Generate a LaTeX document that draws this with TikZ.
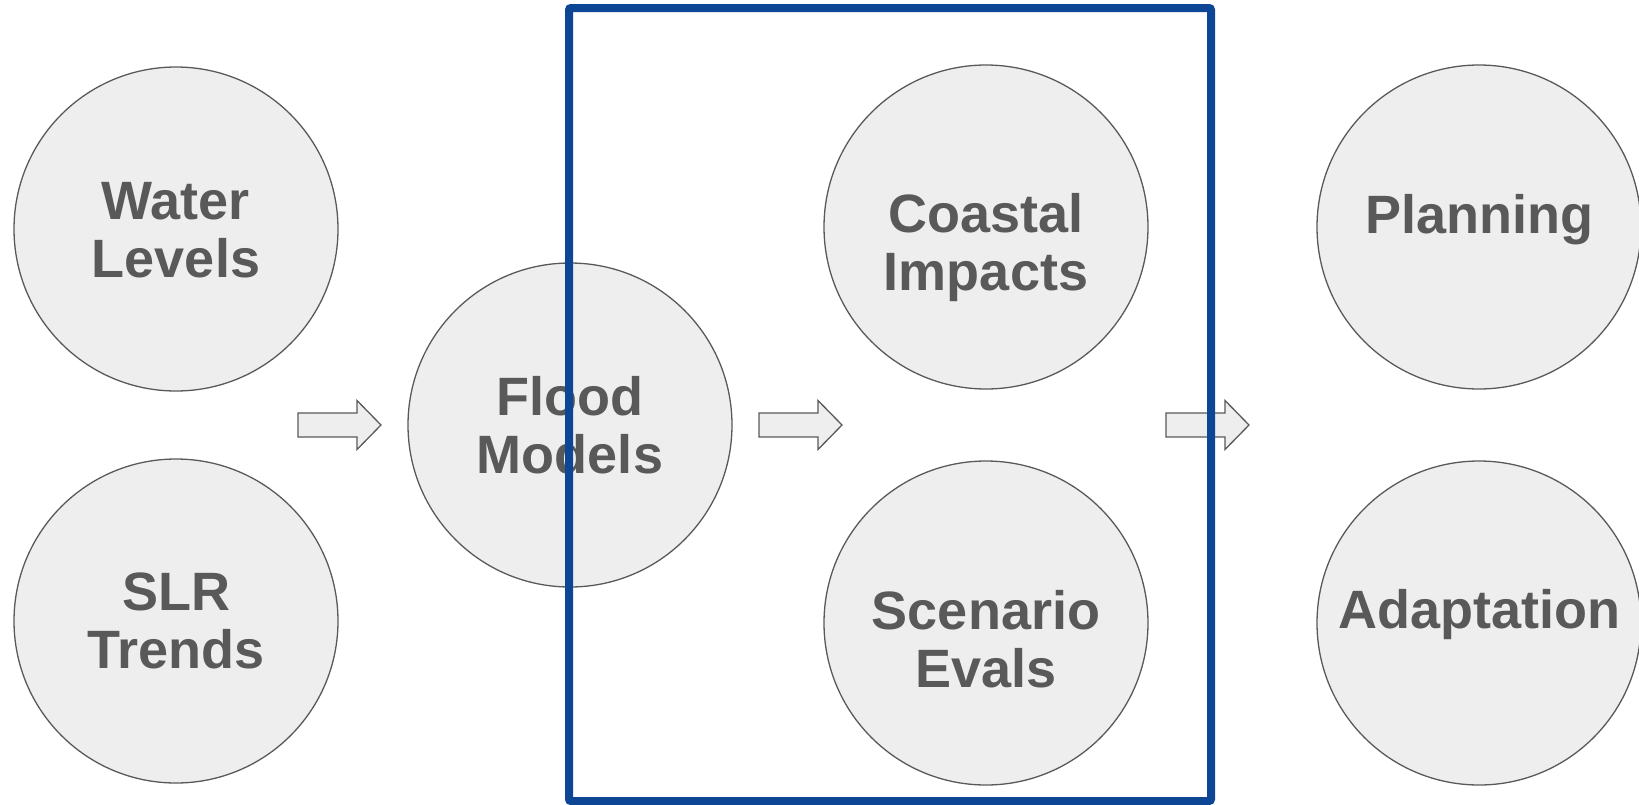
\documentclass[tikz,border=0pt]{standalone}
\usepackage{fontspec}
\setmainfont{Liberation Sans}
\usetikzlibrary{calc}
\definecolor{txtgray}{RGB}{89,89,89}
\definecolor{circfill}{RGB}{238,238,238}
\definecolor{boxblue}{RGB}{13,70,148}
\tikzset{
  bubble/.style={circle, draw=txtgray, fill=circfill, line width=1.3pt, minimum size=324pt, inner sep=0pt},
  btext/.style={text=txtgray, font=\bfseries\fontsize{54}{58}\selectfont, align=center, anchor=base, inner sep=0pt},
  flowarrow/.style={draw=txtgray, fill=circfill, line width=1.3pt, line join=miter},
  bluebox/.style={draw=boxblue, line width=8pt, rounded corners=2pt}
}
\begin{document}
\begin{tikzpicture}[x=1pt,y=-1pt]
\useasboundingbox (0,0) rectangle (1639,804);
\clip (0,0) rectangle (1639,804);
% circles
\node[bubble] (water) at (176,229) {};
\node[bubble] (slr) at (176,621) {};
\node[bubble] (flood) at (570,425) {};
\node[bubble] (coastal) at (986,227) {};
\node[bubble] (scenario) at (986,623) {};
\node[bubble] (planning) at (1479,227) {};
\node[bubble] (adapt) at (1479,623) {};
% texts (anchor base = baseline of last line)
\node[btext] (twater) at (176,277) {Water\\Levels};
\node[btext] (tslr) at (176,668) {SLR\\Trends};
\node[btext] (tflood) at (570,473) {Flood\\Models};
\node[btext] (tcoastal) at (986,290) {Coastal\\Impacts};
\node[btext] (tscen) at (986,687) {Scenario\\Evals};
\node[btext] (tplan) at (1479,233) {Planning};
\node[btext] (tadapt) at (1479,628) {Adaptation};
% arrows
\coordinate (a1) at (298,425);
\coordinate (a2) at (759,425);
\coordinate (a3) at (1166,425);
\foreach \c in {a1,a2,a3}{
  \draw[flowarrow] ($(\c)+(0,-12)$) -- ++(59,0) -- ++(0,-12.5) -- ++(24,24.5) -- ++(-24,24.5) -- ++(0,-12.5) -- ++(-59,0) -- cycle;
}
% blue box
\coordinate (bl) at (569,8);
\coordinate (br) at (1211,801);
\draw[bluebox] (bl) rectangle (br);
\end{tikzpicture}
\end{document}
